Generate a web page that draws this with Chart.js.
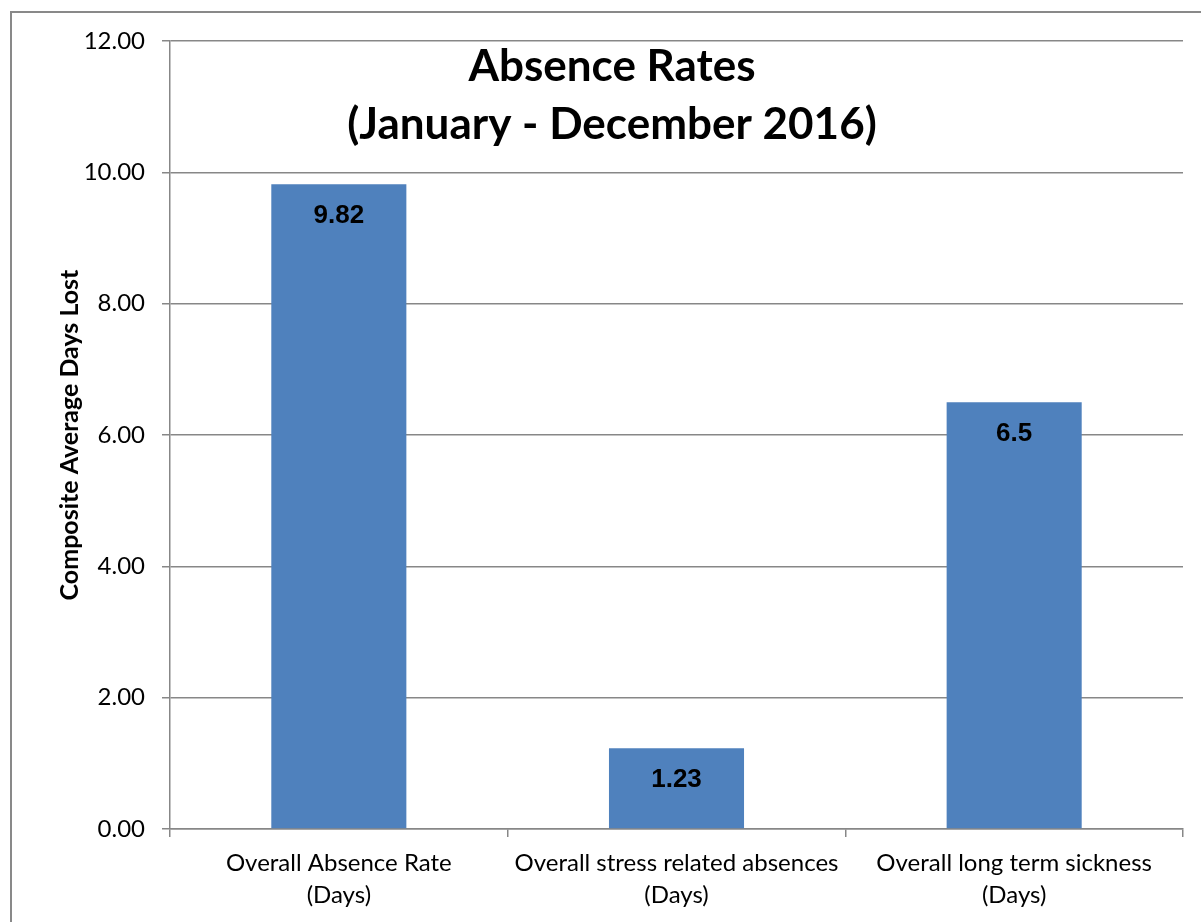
<!DOCTYPE html>
<html>
<head>
<meta charset="utf-8">
<script src="https://cdn.jsdelivr.net/npm/chart.js@4"></script>
<style>
html,body{margin:0;padding:0;background:#fff;}
#wrap{position:relative;width:1201px;height:922px;overflow:hidden;}
#frame{position:absolute;left:10px;top:11px;width:1300px;height:1000px;border-left:2px solid #898989;border-top:2px solid #898989;}
canvas{position:absolute;left:0;top:0;}
</style>
</head>
<body>
<div id="wrap">
<div id="frame"></div>
<canvas id="c" width="1201" height="922"></canvas>
</div>
<script>
const categories = [["Overall Absence Rate","(Days)"],["Overall stress related absences","(Days)"],["Overall long term sickness","(Days)"]];
const values = [9.82, 1.23, 6.5];
const valueLabels = ["9.82","1.23","6.5"];
const titleLines = ["Absence Rates","(January - December 2016)"];
const yTitle = "Composite Average Days Lost";

const gridColor = "#878787";

const titlePlugin = {
  id: 'insideTitle',
  afterDraw(chart) {
    const ctx = chart.ctx;
    ctx.save();
    ctx.fillStyle = '#000';
    ctx.font = 'bold 44px Lato, "Open Sans", sans-serif';
    ctx.textAlign = 'center';
    ctx.textBaseline = 'middle';
    ctx.fillText(titleLines[0], 612, 67);
    ctx.fillText(titleLines[1], 612, 125);
    ctx.restore();
  }
};

const labelPlugin = {
  id: 'barLabels',
  afterDatasetsDraw(chart) {
    const ctx = chart.ctx;
    const meta = chart.getDatasetMeta(0);
    ctx.save();
    ctx.fillStyle = '#000';
    ctx.font = 'bold 26px "Liberation Sans", Arial, sans-serif';
    ctx.textAlign = 'center';
    ctx.textBaseline = 'middle';
    meta.data.forEach((bar, i) => {
      ctx.fillText(valueLabels[i], bar.x, bar.y + 32);
    });
    ctx.restore();
  }
};

new Chart(document.getElementById('c'), {
  type: 'bar',
  data: {
    labels: categories,
    datasets: [{
      data: values,
      backgroundColor: '#4F81BD',
      borderWidth: 0,
      barPercentage: 0.4,
      categoryPercentage: 1.0
    }]
  },
  options: {
    responsive: false,
    animation: false,
    devicePixelRatio: 1,
    layout: { padding: { left: 0, top: 41, right: 18, bottom: 0 } },
    plugins: { legend: { display: false }, tooltip: { enabled: false }, title: { display: false } },
    scales: {
      y: {
        min: 0, max: 12,
        afterFit(scale) { scale.width = 170; },
        ticks: {
          stepSize: 2,
          color: '#000',
          padding: 17,
          font: { family: 'Lato, "Open Sans", sans-serif', size: 24 },
          callback: v => v.toFixed(2)
        },
        grid: { color: gridColor, lineWidth: 1.5, tickLength: 8, drawTicks: true, tickColor: gridColor },
        border: { display: true, color: gridColor, width: 1.5 },
        title: {
          display: true,
          text: yTitle,
          color: '#000',
          font: { family: 'Lato, "Open Sans", sans-serif', size: 25, weight: 'bold' },
          padding: { top: 55, bottom: 0 }
        }
      },
      x: {
        afterFit(scale) { scale.height = 93; },
        ticks: {
          color: '#000',
          padding: 11,
          maxRotation: 0,
          font: { family: 'Lato, "Open Sans", sans-serif', size: 24, lineHeight: 1.3 }
        },
        grid: { display: true, drawOnChartArea: false, offset: true, tickLength: 8, color: gridColor, lineWidth: 1.5 },
        border: { display: true, color: gridColor, width: 1.5 }
      }
    }
  },
  plugins: [titlePlugin, labelPlugin]
});
</script>
</body>
</html>
